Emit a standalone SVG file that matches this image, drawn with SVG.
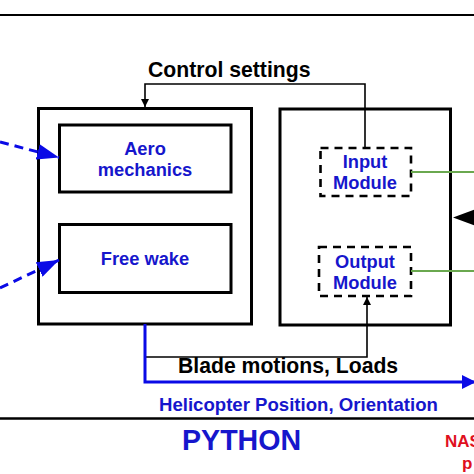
<svg xmlns="http://www.w3.org/2000/svg" width="474" height="474" viewBox="0 0 474 474">
<style>
.box{fill:none;stroke:#000;stroke-width:3}
.dbox{fill:none;stroke:#000;stroke-width:2.6;stroke-dasharray:8 6}
.thin{fill:none;stroke:#000;stroke-width:1.6}
.blue{fill:none;stroke:#0a0ae6;stroke-width:3}
.bdash{fill:none;stroke:#0a0ae6;stroke-width:3;stroke-dasharray:9 6}
.green{fill:none;stroke:#6aa84f;stroke-width:2.2}
.t{font-family:"Liberation Sans",Arial,sans-serif;font-weight:bold}
.bt{fill:#1616cc;font-size:18.3px;text-anchor:middle}
.kt{fill:#000;font-size:21.2px}
</style>
<defs>
<marker id="ak" viewBox="0 0 10 10" refX="10" refY="5" markerWidth="8" markerHeight="8" markerUnits="userSpaceOnUse" orient="auto"><path d="M0,0L10,5L0,10z" fill="#000"/></marker>
<marker id="ab" viewBox="0 0 10 10" refX="10" refY="5" markerWidth="22" markerHeight="16" markerUnits="userSpaceOnUse" orient="auto" preserveAspectRatio="none"><path d="M0,0L10,5L0,10z" fill="#0a0ae6"/></marker>
<marker id="ab2" viewBox="0 0 10 10" refX="10" refY="5" markerWidth="14" markerHeight="14" markerUnits="userSpaceOnUse" orient="auto" preserveAspectRatio="none"><path d="M0,0L10,5L0,10z" fill="#0a0ae6"/></marker>
</defs>
<rect width="474" height="474" fill="#fff"/>
<line x1="0" y1="15" x2="474" y2="15" stroke="#000" stroke-width="2"/>
<line x1="0" y1="418.5" x2="474" y2="418.5" stroke="#000" stroke-width="2.5"/>
<g id="python-box">
<rect class="box" x="38.5" y="108.5" width="213" height="215.5"/>
</g>
<g id="aero">
<rect class="box" x="59.5" y="125" width="171.5" height="67"/>
<text class="t bt" x="145" y="155">Aero</text>
<text class="t bt" x="145" y="176">mechanics</text>
</g>
<g id="freewake">
<rect class="box" x="59.5" y="224.5" width="171.5" height="68"/>
<text class="t bt" x="145" y="265">Free wake</text>
</g>
<g id="right-box">
<rect class="box" x="280" y="109" width="170.5" height="216"/>
</g>
<g id="input-module">
<rect class="dbox" x="320.5" y="148" width="90.5" height="48"/>
<text class="t bt" x="365" y="168">Input</text>
<text class="t bt" x="365" y="189">Module</text>
</g>
<g id="output-module">
<rect class="dbox" x="319" y="247" width="92" height="49"/>
<text class="t bt" x="365" y="268">Output</text>
<text class="t bt" x="365" y="289">Module</text>
</g>
<g id="connectors">
<polyline class="thin" points="365,148 365,84 145,84 145,107" marker-end="url(#ak)"/>
<polyline class="thin" points="145,357 367,357 367,297" marker-end="url(#ak)"/>
<polyline class="blue" points="145,324 145,382 476,382" marker-end="url(#ab2)"/>
<line class="green" x1="411" y1="172" x2="474" y2="172"/>
<line class="green" x1="411" y1="271" x2="474" y2="271"/>
<line class="bdash" x1="0" y1="142" x2="59" y2="157.5" marker-end="url(#ab)"/>
<line class="bdash" x1="0" y1="288" x2="59" y2="260" marker-end="url(#ab)"/>
<polygon points="453,217.5 476,209 476,226" fill="#000"/>
</g>
<text class="t kt" x="148" y="77">Control settings</text>
<text class="t kt" x="178" y="373">Blade motions, Loads</text>
<text class="t" x="159" y="411" fill="#1616cc" font-size="18.6">Helicopter Position, Orientation</text>
<text class="t" x="182" y="450" fill="#1616cc" font-size="28.6">PYTHON</text>
<text class="t" x="445" y="447" fill="#e0101e" font-size="17">NAS</text>
<text class="t" x="462" y="469" fill="#e0101e" font-size="17">p</text>
</svg>
